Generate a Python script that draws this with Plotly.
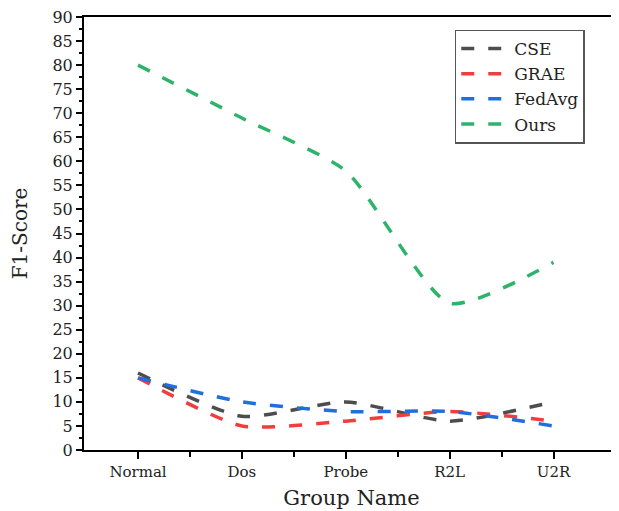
import plotly.graph_objects as go

categories = ["Normal", "Dos", "Probe", "R2L", "U2R"]
cse = [16, 7, 10, 6, 10]
grae = [15, 5, 6, 8, 6]
fedavg = [15, 10, 8, 8, 5]
ours = [80, 69, 58, 30.5, 39]
y_ticks = list(range(0, 91, 5))

series = [("CSE", cse, "#4d4d4d"), ("GRAE", grae, "#f23d3d"),
          ("FedAvg", fedavg, "#1f6fdc"), ("Ours", ours, "#2eb36b")]

font_fam = "DejaVu Serif, Liberation Serif, serif"

fig = go.Figure()
for name, vals, col in series:
    fig.add_trace(go.Scatter(
        x=list(range(len(categories))), y=vals, name=name, mode="lines",
        line=dict(color=col, width=3.5, dash="13px,14px", shape="spline", smoothing=0.6),
    ))

fig.update_layout(
    width=611, height=503,
    margin=dict(l=76, r=0, t=9, b=61, autoexpand=False),
    paper_bgcolor="white", plot_bgcolor="white",
    font=dict(family=font_fam, size=15, color="#222"),
    showlegend=True,
    legend=dict(x=0.693, y=0.971, xanchor="left", yanchor="top",
                bgcolor="white", bordercolor="#555", borderwidth=1.5,
                font=dict(size=17, family=font_fam), tracegroupgap=0,
                itemwidth=48, entrywidth=82, entrywidthmode="pixels"),
    xaxis=dict(
        range=[-0.52, 4.63], tickmode="array", automargin=False,
        tickvals=list(range(len(categories))), ticktext=categories,
        showline=True, linecolor="black", linewidth=2, mirror=True,
        ticks="outside", ticklen=7, tickwidth=1.5, tickcolor="black",
        minor=dict(tickmode="array", tickvals=[0.5, 1.5, 2.5, 3.5],
                   ticks="outside", ticklen=5, tickwidth=1.5, tickcolor="black"),
        showgrid=False, zeroline=False,
        tickfont=dict(size=15, family=font_fam),
        title=dict(text="Group Name", font=dict(size=21, family=font_fam), standoff=10),
    ),
    yaxis=dict(
        range=[0, 90], tickmode="array", tickvals=y_ticks, automargin=False,
        ticktext=[str(v) for v in y_ticks], ticklabeloverflow="allow",
        showline=True, linecolor="black", linewidth=2,
        ticks="outside", ticklen=6, tickwidth=1.5, tickcolor="black",
        minor=dict(dtick=2.5, ticks="outside", ticklen=3, tickwidth=1.5, tickcolor="black"),
        showgrid=False, zeroline=False,
        tickfont=dict(size=16, family=font_fam),
        title=dict(text="F1-Score", font=dict(size=20, family=font_fam), standoff=22),
    ),
)

fig.write_html("out.html")
